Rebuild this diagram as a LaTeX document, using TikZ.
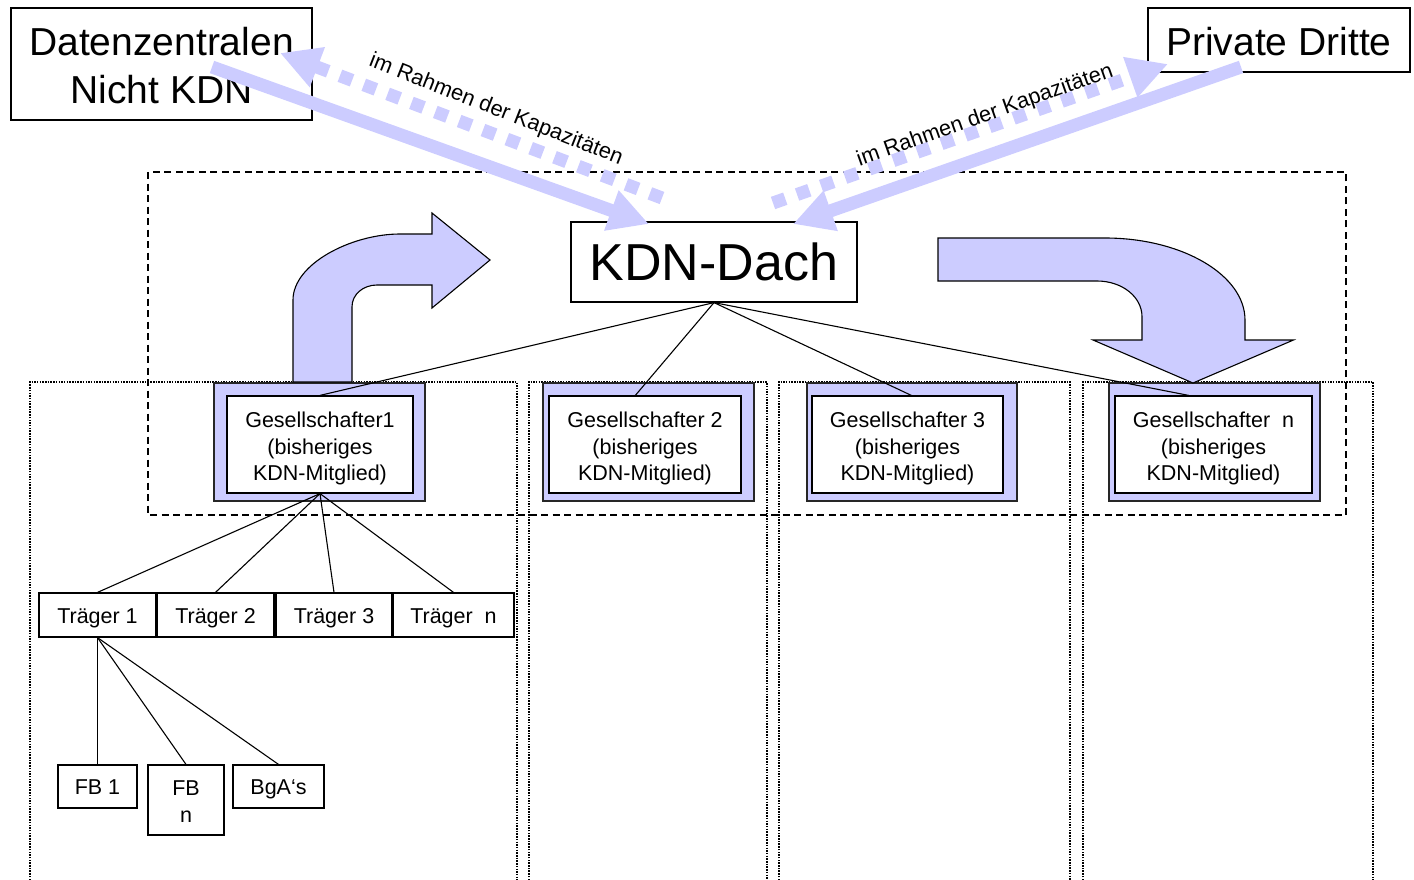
\documentclass[tikz,border=0pt]{standalone}
\usepackage{fontspec}
\setmainfont{Liberation Sans}
\usetikzlibrary{arrows.meta,calc}
\definecolor{lav}{RGB}{204,204,255}
\begin{document}
\begin{tikzpicture}[x=1pt,y=-1pt,
  box/.style={draw,line width=1.2pt,fill=white,inner sep=0pt},
  txt/.style={inner sep=0pt,align=center},
  gout/.style={draw=black!85,line width=1.2pt,fill=lav,inner sep=0pt},
  small/.style={font=\fontsize{21.5}{26.5}\selectfont},
  big/.style={font=\fontsize{39}{48}\selectfont},
  huge/.style={font=\fontsize{52}{60}\selectfont},
  col/.style={line width=1.5pt,dash pattern=on 1.5pt off 1.2pt},
  frame/.style={line width=2pt,dash pattern=on 7pt off 4.5pt},
  link/.style={line width=1.1pt},
  bent/.style={draw=black,line width=1.1pt,fill=lav},
  solidarrow/.style={draw=lav,line width=13pt,-{Triangle[length=40pt,width=40pt]}},
  dotarrow/.style={draw=lav,line width=13pt,dash pattern=on 13pt off 12.5pt,-{Triangle[length=40pt,width=40pt]}},
  lbl/.style={font=\fontsize{21.8}{26}\selectfont,inner sep=0pt}
]
\useasboundingbox (0,0) rectangle (1414,880);

% dotted columns
\draw[col] (30,880) -- (30,382) -- (517,382) -- (517,880);
\draw[col] (529,880) -- (529,382) -- (767,382) -- (767,880);
\draw[col] (779,880) -- (779,382) -- (1070,382) -- (1070,880);
\draw[col] (1083,880) -- (1083,382) -- (1373,382) -- (1373,880);

% dashed frame
\draw[frame] (148,172) rectangle (1346,515);

% Gesellschafter boxes
\node[gout,minimum width=211pt,minimum height=118pt] (g1o) at (319.5,442) {};
\node[gout,minimum width=211pt,minimum height=118pt] (g2o) at (648.5,442) {};
\node[gout,minimum width=210pt,minimum height=118pt] (g3o) at (912,442) {};
\node[gout,minimum width=211pt,minimum height=118pt] (gno) at (1214.5,442) {};
\node[box,minimum width=186pt,minimum height=97pt] (g1) at (320,444.5) {};
\node[box,minimum width=192pt,minimum height=97pt] (g2) at (645,444.5) {};
\node[box,minimum width=191pt,minimum height=97pt] (g3) at (907.5,444.5) {};
\node[box,minimum width=197pt,minimum height=97pt] (gn) at (1213.5,444.5) {};
\node[txt,small,yshift=-4pt] (g1t) at (g1) {Gesellschafter1\\(bisheriges\\KDN-Mitglied)};
\node[txt,small,yshift=-4pt] (g2t) at (g2) {Gesellschafter 2\\(bisheriges\\KDN-Mitglied)};
\node[txt,small,yshift=-4pt] (g3t) at (g3) {Gesellschafter 3\\(bisheriges\\KDN-Mitglied)};
\node[txt,small,yshift=-4pt] (gnt) at (gn) {Gesellschafter~~n\\(bisheriges\\KDN-Mitglied)};

% curved arrows
\path[bent] (293,382) -- (293,300) .. controls (293,263.6) and (352,234) .. (400,234)
  -- (432,234) -- (432,213) -- (490,260) -- (432,308) -- (432,285) -- (377,285)
  .. controls (363,285) and (352,294.6) .. (352,306.7) -- (352,382) -- cycle;
\path[bent] (938,238) -- (1105,238) .. controls (1182,238) and (1245,275) .. (1245,320)
  -- (1245,340) -- (1293.5,340) -- (1193,383) -- (1093,340) -- (1142,340) -- (1142,316.7)
  .. controls (1142,296.8) and (1122,281) .. (1097,281) -- (938,281) -- cycle;

% top boxes
\node[box,minimum width=286pt,minimum height=80pt] (kdn) at (714,262) {};
\node[txt,huge] (kdnt) at (kdn) {KDN-Dach};
\node[box,minimum width=301pt,minimum height=112pt] (dz) at (161.5,64) {};
\node[txt,big,yshift=-2pt] (dzt0) at (dz) {Datenzentralen\\Nicht KDN};
\node[box,minimum width=262pt,minimum height=64pt] (pd) at (1279,40) {};
\node[txt,big,yshift=-2pt] (pdt0) at (pd) {Private Dritte};

% Traeger
\node[box,minimum width=117pt,minimum height=44pt] (t1) at (97.5,615) {};
\node[box,minimum width=117pt,minimum height=44pt] (t2) at (215.5,615) {};
\node[box,minimum width=116pt,minimum height=44pt] (t3) at (334,615) {};
\node[box,minimum width=121pt,minimum height=44pt] (tn) at (453.5,615) {};
\node[txt,small,yshift=-3pt] (t1t) at (t1) {Träger 1};
\node[txt,small,yshift=-3pt] (t2t) at (t2) {Träger 2};
\node[txt,small,yshift=-3pt] (t3t) at (t3) {Träger 3};
\node[txt,small,yshift=-3pt] (tnt) at (tn) {Träger~~n};

% FB
\node[box,minimum width=79pt,minimum height=43pt] (fb1) at (97.5,786.5) {};
\node[box,minimum width=76pt,minimum height=70pt] (fbn) at (186,800) {};
\node[box,minimum width=91pt,minimum height=43pt] (bga) at (278.5,786.5) {};
\node[txt,small,yshift=-3pt,text depth=4.5pt] (fb1t) at (fb1) {FB 1};
\node[txt,font=\fontsize{21.5}{27}\selectfont,yshift=-2pt] (fbnt) at (fbn) {FB\\n};
\node[txt,small,yshift=-3pt] (bgat) at (bga) {BgA‘s};

% connectors
\draw[link] (kdn.south) -- (g1.north);
\draw[link] (kdn.south) -- ($(g2.north west)!0.45!(g2.north east)$);
\draw[link] (kdn.south) -- ($(g3.north west)!0.52!(g3.north east)$);
\draw[link] (kdn.south) -- ($(gn.north west)!0.375!(gn.north east)$);
\draw[link] (g1.south) -- (t1.north);
\draw[link] (g1.south) -- (t2.north);
\draw[link] (g1.south) -- (t3.north);
\draw[link] (g1.south) -- (tn.north);
\draw[link] (t1.south) -- (fb1.north);
\draw[link] (t1.south) -- (fbn.north);
\draw[link] (t1.south) -- (bga.north);

% thick arrows
\coordinate (dzs) at (212,67);
\coordinate (kdnl) at (649,224);
\coordinate (kdnld) at (662,198);
\coordinate (dzt) at (280,53);
\coordinate (pds) at (1241,67);
\coordinate (kdnr) at (793,224);
\coordinate (kdnrd) at (773,203);
\coordinate (pdt) at (1168,64);
\draw[solidarrow] (dzs) -- (kdnl);
\draw[dotarrow] (kdnld) -- (dzt);
\draw[solidarrow] (pds) -- (kdnr);
\draw[dotarrow] (kdnrd) -- (pdt);

\node[lbl,rotate=-21.5] (l1) at (496,110) {im Rahmen der Kapazitäten};
\node[lbl,rotate=19.5] (l2) at (985,116) {im Rahmen der Kapazitäten};
\end{tikzpicture}
\end{document}
